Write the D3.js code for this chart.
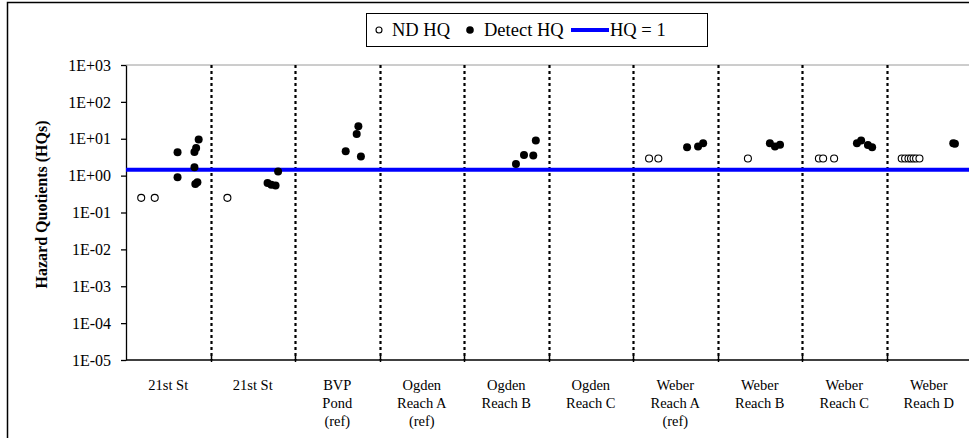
<!DOCTYPE html>
<html>
<head>
<meta charset="utf-8">
<script src="https://cdn.jsdelivr.net/npm/d3@7"></script>
<style>
  html, body { margin: 0; padding: 0; background: #fff; overflow: hidden; }
</style>
</head>
<body>
<svg id="chart" width="969" height="438"></svg>
<script>
// ---- data ----
const categories = [
  ["21st St"],
  ["21st St"],
  ["BVP", "Pond", "(ref)"],
  ["Ogden", "Reach A", "(ref)"],
  ["Ogden", "Reach B"],
  ["Ogden", "Reach C"],
  ["Weber", "Reach A", "(ref)"],
  ["Weber", "Reach B"],
  ["Weber", "Reach C"],
  ["Weber", "Reach D"]
];
const yTickValues = [1e-5, 1e-4, 1e-3, 1e-2, 1e-1, 1e0, 1e1, 1e2, 1e3];
const yTickLabels = ["1E-05", "1E-04", "1E-03", "1E-02", "1E-01", "1E+00", "1E+01", "1E+02", "1E+03"];
// [category index, position within category (0-1), HQ value]
const ndHQ = [
  [0, 0.18, 0.25], [0, 0.34, 0.25],
  [1, 0.20, 0.25],
  [6, 0.19, 2.9], [6, 0.30, 2.9],
  [7, 0.36, 2.9],
  [8, 0.20, 2.9], [8, 0.25, 2.9], [8, 0.38, 2.9],
  [9, 0.18, 2.9], [9, 0.22, 2.9], [9, 0.26, 2.9], [9, 0.29, 2.9], [9, 0.32, 2.9], [9, 0.35, 2.9], [9, 0.39, 2.9]
];
const detectHQ = [
  [0, 0.61, 4.3], [0, 0.61, 0.9], [0, 0.81, 4.4], [0, 0.83, 5.6], [0, 0.86, 9.5],
  [0, 0.81, 1.7], [0, 0.82, 0.59], [0, 0.845, 0.66],
  [1, 0.80, 1.3], [1, 0.675, 0.63], [1, 0.72, 0.57], [1, 0.77, 0.54],
  [2, 0.60, 4.6], [2, 0.73, 13.4], [2, 0.75, 21.7], [2, 0.78, 3.3],
  [4, 0.615, 2.06], [4, 0.71, 3.6], [4, 0.82, 3.5], [4, 0.85, 8.9],
  [6, 0.64, 5.85], [6, 0.77, 6.2], [6, 0.83, 7.6],
  [7, 0.62, 7.6], [7, 0.68, 6.2], [7, 0.74, 6.9],
  [8, 0.65, 7.6], [8, 0.70, 9.0], [8, 0.78, 6.8], [8, 0.83, 5.9],
  [9, 0.79, 7.6], [9, 0.81, 7.3]
];
const hqLineValue = 1.45;
const legendLabels = ["ND HQ", "Detect HQ", "HQ = 1"];

const FONT = "'Liberation Serif', Tinos, 'Times New Roman', Times, 'Nimbus Roman', 'DejaVu Serif', serif";

// ---- layout ----
const svg = d3.select("#chart").style("font-family", FONT);
const plot = { left: 126, right: 971, top: 65, bottom: 360 };

// outer chart frame
svg.append("rect")
  .attr("x", 7.5).attr("y", 2.5)
  .attr("width", 1000).attr("height", 500)
  .attr("fill", "none").attr("stroke", "#000").attr("stroke-width", 1.5);

const x = d3.scaleBand()
  .domain(d3.range(categories.length))
  .range([plot.left, plot.right])
  .paddingInner(0).paddingOuter(0);

const y = d3.scaleLog()
  .domain([1e-5, 1e3])
  .range([plot.bottom, plot.top]);

// top gridline
svg.append("line")
  .attr("x1", plot.left).attr("x2", plot.right)
  .attr("y1", y(1e3)).attr("y2", y(1e3))
  .attr("stroke", "#9a9a9a").attr("stroke-width", 1);

// dotted category dividers
svg.append("g").selectAll("line")
  .data(d3.range(1, categories.length))
  .join("line")
  .attr("x1", d => Math.round(x(d)) + 0.5)
  .attr("x2", d => Math.round(x(d)) + 0.5)
  .attr("y1", y(1e3)).attr("y2", plot.bottom)
  .attr("stroke", "#000").attr("stroke-width", 2.2)
  .attr("stroke-dasharray", "3,3");

// y axis
const yAxis = d3.axisLeft(y)
  .tickValues(yTickValues)
  .tickFormat((d, i) => yTickLabels[i])
  .tickSizeOuter(0).tickSizeInner(5).tickPadding(10);
const yg = svg.append("g").attr("transform", `translate(${plot.left},0)`).call(yAxis);
yg.attr("font-family", null).attr("font-size", null);
yg.select(".domain").attr("stroke", "#000").attr("stroke-width", 1.3);
yg.selectAll(".tick line").attr("stroke", "#000").attr("stroke-width", 1.3);
yg.selectAll("text")
  .style("font-family", FONT)
  .attr("font-size", 16).attr("fill", "#000");

// x axis line + ticks (crossing)
svg.append("line")
  .attr("x1", plot.left).attr("x2", plot.right)
  .attr("y1", plot.bottom).attr("y2", plot.bottom)
  .attr("stroke", "#000").attr("stroke-width", 1.3);
svg.append("g").selectAll("line")
  .data(d3.range(1, categories.length))
  .join("line")
  .attr("x1", d => Math.round(x(d)) + 0.5)
  .attr("x2", d => Math.round(x(d)) + 0.5)
  .attr("y1", plot.bottom - 4).attr("y2", plot.bottom + 2)
  .attr("stroke", "#000").attr("stroke-width", 1.5);

// category labels
const catG = svg.append("g").selectAll("text")
  .data(categories)
  .join("text")
  .style("font-family", FONT)
  .attr("text-anchor", "middle")
  .attr("font-size", 14.5)
  .attr("fill", "#000")
  .attr("transform", (d, i) => `translate(${x(i) + x.bandwidth() / 2},${plot.bottom + 30})`);
catG.selectAll("tspan")
  .data(d => d)
  .join("tspan")
  .attr("x", 0)
  .attr("y", (d, i) => i * 18)
  .text(d => d);

// y axis title
svg.append("text")
  .style("font-family", FONT)
  .attr("transform", `translate(47,${(plot.top + plot.bottom) / 2 - 8}) rotate(-90)`)
  .attr("text-anchor", "middle")
  .attr("font-size", 16).attr("font-weight", "bold")
  .attr("fill", "#000")
  .text("Hazard Quotients (HQs)");

// HQ reference line
svg.append("line")
  .attr("x1", plot.left).attr("x2", plot.right)
  .attr("y1", y(hqLineValue)).attr("y2", y(hqLineValue))
  .attr("stroke", "#0000ff").attr("stroke-width", 4);

const px = d => x(d[0]) + d[1] * x.bandwidth();

// ND points (open)
svg.append("g").selectAll("circle")
  .data(ndHQ)
  .join("circle")
  .attr("cx", px).attr("cy", d => y(d[2]))
  .attr("r", 3.5)
  .attr("fill", "#fff").attr("stroke", "#000").attr("stroke-width", 1.1);

// Detect points (filled)
svg.append("g").selectAll("circle")
  .data(detectHQ)
  .join("circle")
  .attr("cx", px).attr("cy", d => y(d[2]))
  .attr("r", 4)
  .attr("fill", "#000");

// legend
const lg = svg.append("g").style("font-family", FONT);
lg.append("rect")
  .attr("x", 366.5).attr("y", 13.5).attr("width", 341).attr("height", 33)
  .attr("fill", "#fff").attr("stroke", "#000").attr("stroke-width", 1);
const ly = 30;
lg.append("circle").attr("cx", 379).attr("cy", ly).attr("r", 3)
  .attr("fill", "#fff").attr("stroke", "#000").attr("stroke-width", 1.1);
lg.append("text").attr("x", 392).attr("y", ly + 6).attr("font-size", 18.5).text(legendLabels[0]);
lg.append("circle").attr("cx", 470).attr("cy", ly).attr("r", 3.8).attr("fill", "#000");
lg.append("text").attr("x", 484).attr("y", ly + 6).attr("font-size", 18.5).text(legendLabels[1]);
lg.append("line").attr("x1", 571).attr("x2", 609).attr("y1", ly).attr("y2", ly)
  .attr("stroke", "#0000ff").attr("stroke-width", 4);
lg.append("text").attr("x", 610).attr("y", ly + 6).attr("font-size", 18.5).text(legendLabels[2]);
</script>
</body>
</html>
